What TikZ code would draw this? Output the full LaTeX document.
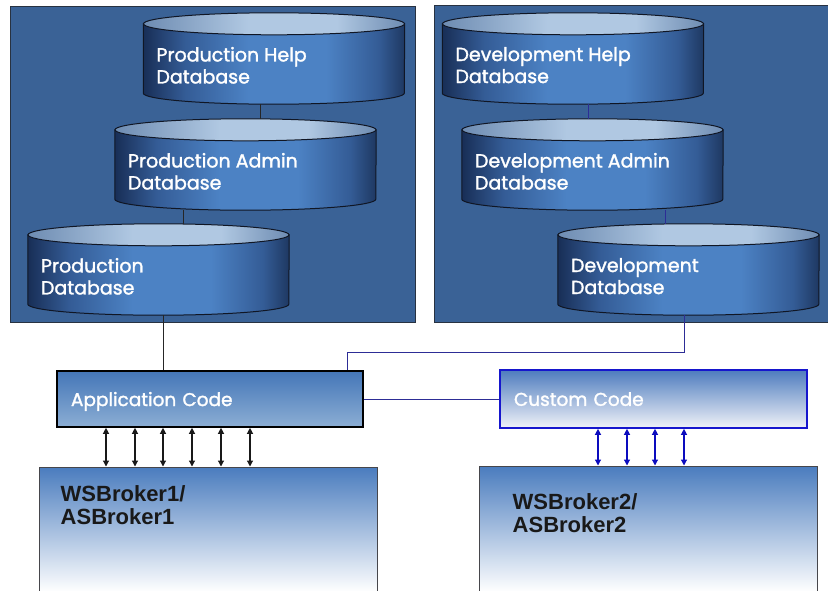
\documentclass[tikz,border=0pt]{standalone}
\usepackage{fontspec}
\newfontfamily\drumfont[FakeBold=1.6]{Poppins}
\newfontfamily\brokerfont{Liberation Sans}
\usetikzlibrary{arrows.meta, calc}

\definecolor{panelblue}{RGB}{58, 98, 150}
\definecolor{panelline}{RGB}{40, 50, 65}
\definecolor{drumdark}{RGB}{24, 46, 86}
\definecolor{drummid}{RGB}{52, 92, 150}
\definecolor{drumlight}{RGB}{76, 130, 196}
\definecolor{drumedge}{RGB}{30, 56, 98}
\definecolor{drumline}{RGB}{16, 22, 36}
\definecolor{capedge}{RGB}{110, 140, 178}
\definecolor{caplight}{RGB}{176, 200, 226}
\definecolor{apptop}{RGB}{68, 118, 184}
\definecolor{appbottom}{RGB}{140, 174, 212}
\definecolor{custtop}{RGB}{78, 124, 190}
\definecolor{custbottom}{RGB}{240, 242, 248}
\definecolor{custline}{RGB}{22, 22, 205}
\definecolor{linkblue}{RGB}{45, 45, 150}
\definecolor{arrowblue}{RGB}{12, 12, 190}
\definecolor{brokertop}{RGB}{74, 124, 190}
\definecolor{brokerline}{RGB}{70, 70, 75}

\pgfdeclarehorizontalshading{drumshade}{100bp}{color(0bp)=(drumdark); color(25bp)=(drumdark);
  color(33bp)=(drummid); color(45bp)=(drumlight); color(60bp)=(drumlight); color(70bp)=(drummid);
  color(75bp)=(drumedge); color(100bp)=(drumedge)}
\pgfdeclarehorizontalshading{capshade}{100bp}{color(0bp)=(capedge); color(25bp)=(capedge);
  color(45bp)=(caplight); color(62bp)=(caplight); color(75bp)=(capedge); color(100bp)=(capedge)}

\tikzset{
  panel/.style={draw=panelline, line width=1pt, fill=panelblue},
  drumbox/.style={minimum width=261pt, minimum height=91pt, inner sep=0pt},
  drumbody/.style={draw=drumline, line width=1pt, shading=drumshade, shading angle=0},
  drumcap/.style={draw=drumline, line width=1pt, shading=capshade, shading angle=0},
  drumtext/.style={anchor=north west, inner sep=0pt, align=left, text=white, font=\drumfont\fontsize{19}{22}\selectfont},
  codebox/.style={inner xsep=14pt, align=left, text=white, text depth=0pt, font=\drumfont\fontsize{18.5}{20}\selectfont},
  brokerbox/.style={draw=brokerline, line width=1pt, top color=brokertop, bottom color=white, minimum width=338pt, inner sep=0pt},
  brokertext/.style={anchor=north west, inner sep=0pt, align=left, text=black!90, font=\brokerfont\bfseries\fontsize{22}{22.5}\selectfont},
  darklink/.style={draw=black!85, line width=0.8pt},
  bluelink/.style={draw=linkblue, line width=0.8pt},
  biarrow/.style={line width=1.2pt, {Triangle[width=6pt,length=6pt]}-{Triangle[width=6pt,length=6pt]}}
}

% cylinder: name, centre, label
\newcommand{\dbdrum}[3]{%
  \node[drumbox] (#1) at (#2) {};
  \shadedraw[drumbody] ([yshift=-11pt]#1.north west) -- ([yshift=11pt]#1.south west)
    arc[start angle=180, end angle=360, x radius=130.5pt, y radius=11pt]
    -- ([yshift=-11pt]#1.north east) -- cycle;
  \shadedraw[drumcap] ([yshift=-11pt]#1.north) ellipse[x radius=130.5pt, y radius=11pt];
  \node[drumtext] (#1-t) at ([xshift=13pt, yshift=-34pt]#1.north west) {#3};
}

\begin{document}
\begin{tikzpicture}[x=1pt, y=-1pt]
  \path[use as bounding box] (0,0) rectangle (828,590);

  % Panels
  \draw[panel] (10,6) rectangle (415,322);
  \draw[panel] (434,5) rectangle (832,322);

  % Production databases
  \dbdrum{prodhelp}{274,58.5}{Production Help\\Database}
  \dbdrum{prodadmin}{245.5,164.5}{Production Admin\\Database}
  \dbdrum{proddb}{158.5,269.5}{Production\\Database}

  % Development databases
  \dbdrum{devhelp}{573,58.5}{Development Help\\Database}
  \dbdrum{devadmin}{592.5,164.5}{Development Admin\\Database}
  \dbdrum{devdb}{688.5,269.5}{Development\\Database}

  % Code boxes
  \node[codebox, draw=black, line width=1.6pt, top color=apptop, bottom color=appbottom,
        minimum width=306pt, minimum height=56pt, text width=278pt] (appcode) at (210,399) {Application Code};
  \node[codebox, draw=custline, line width=1.6pt, top color=custtop, bottom color=custbottom,
        minimum width=307pt, minimum height=58pt, text width=279pt] (custcode) at (653.5,399) {Custom Code};

  % Brokers
  \node[brokerbox, minimum height=125pt] (broker1) at (208,529.5) {};
  \node[brokertext] (broker1-t) at ([xshift=22pt, yshift=-19pt]broker1.north west) {WSBroker1/\\ASBroker1};
  \node[brokerbox, minimum height=126pt] (broker2) at (648,529) {};
  \node[brokertext] (broker2-t) at ([xshift=34pt, yshift=-28pt]broker2.north west) {WSBroker2/\\ASBroker2};

  % Links
  \draw[darklink] (prodhelp.south -| 260,0) -- (prodadmin.north -| 260,0);
  \draw[darklink] (prodadmin.south -| 183,0) -- (proddb.north -| 183,0);
  \draw[darklink] (proddb.south -| 163,0) -- (appcode.north -| 163,0);
  \draw[bluelink] (devhelp.south -| 588,0) -- (devadmin.north -| 588,0);
  \draw[bluelink] (devadmin.south -| 665,0) -- (devdb.north -| 665,0);
  \draw[bluelink] (devdb.south -| 684,0) |- (347,352) -- (appcode.north -| 347,0);
  \draw[bluelink] (appcode.east) -- (custcode.west);

  % Arrows
  \foreach \ax in {106,135,163,192,221,250}
    \draw[biarrow, black!90] (appcode.south -| \ax,0) -- (broker1.north -| \ax,0);
  \foreach \ax in {598,627,655,684}
    \draw[biarrow, arrowblue] (custcode.south -| \ax,0) -- (broker2.north -| \ax,0);
\end{tikzpicture}
\end{document}
